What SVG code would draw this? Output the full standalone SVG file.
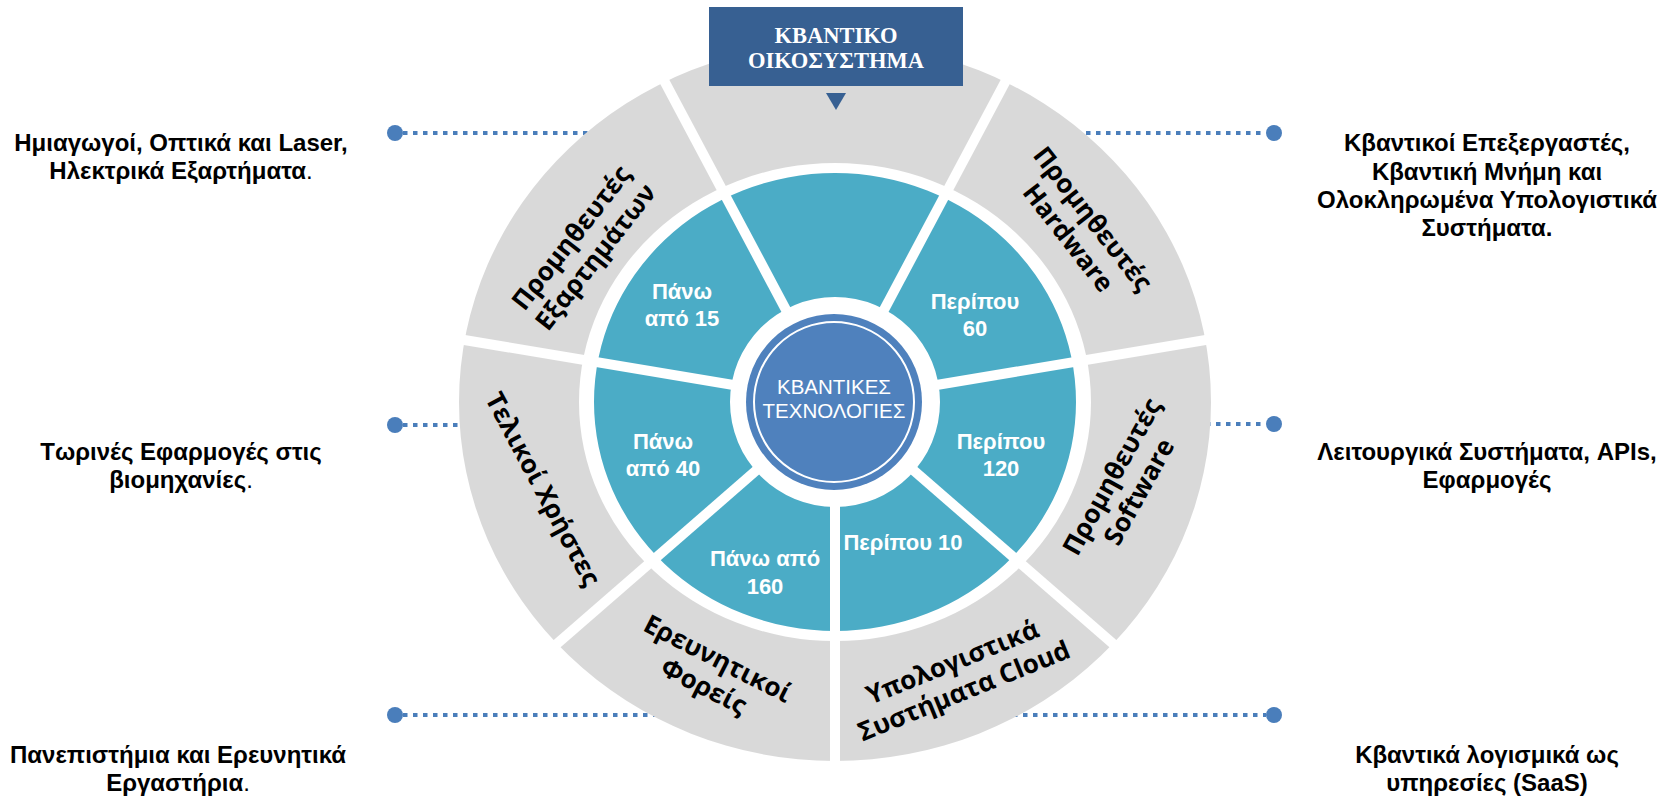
<svg xmlns="http://www.w3.org/2000/svg" width="1677" height="798" viewBox="0 0 1677 798">
<style>
.gray{fill:#d9d9d9}
.teal{fill:#4bacc6}
.seg{font-family:"Open Sans","Liberation Sans",sans-serif;font-weight:700;font-size:26px;fill:#000;text-anchor:middle}
.tl{font-family:"Liberation Sans",Arial,sans-serif;font-weight:bold;font-size:22px;fill:#fff;text-anchor:middle}
.desc{font-family:"Liberation Sans",Arial,sans-serif;font-weight:bold;font-size:24px;fill:#000;text-anchor:middle}
.dot{fill:#4a7ebb}
.dash{stroke:#4a7ebb;stroke-width:4;stroke-dasharray:4.5 5.5;fill:none}
.n{font-weight:normal}
</style>
<defs>
<mask id="mGray" maskUnits="userSpaceOnUse" x="0" y="0" width="1677" height="798">
<path d="M459,402 a376,359 0 1,0 752,0 a376,359 0 1,0 -752,0 Z M579,402 a256,239 0 1,0 512,0 a256,239 0 1,0 -512,0 Z" fill="#fff" fill-rule="evenodd"/>
<g stroke="#000" stroke-width="10">
<line x1="835" y1="402" x2="553.3" y2="-127.7"/><line x1="835" y1="402" x2="1116.7" y2="-127.7"/>
<line x1="835" y1="402" x2="1426.8" y2="303"/><line x1="835" y1="402" x2="243.2" y2="303"/>
<line x1="835" y1="402" x2="1287.8" y2="795.7"/><line x1="835" y1="402" x2="382.2" y2="795.7"/>
<line x1="835" y1="402" x2="835" y2="1002"/>
</g>
</mask>
<mask id="mTeal" maskUnits="userSpaceOnUse" x="0" y="0" width="1677" height="798">
<path d="M594,402 a241,229 0 1,0 482,0 a241,229 0 1,0 -482,0 Z M730,402 a105,105 0 1,0 210,0 a105,105 0 1,0 -210,0 Z" fill="#fff" fill-rule="evenodd"/>
<g stroke="#000" stroke-width="10">
<line x1="835" y1="402" x2="553.3" y2="-127.7"/><line x1="835" y1="402" x2="1116.7" y2="-127.7"/>
<line x1="835" y1="402" x2="1426.8" y2="303"/><line x1="835" y1="402" x2="243.2" y2="303"/>
<line x1="835" y1="402" x2="1287.8" y2="795.7"/><line x1="835" y1="402" x2="382.2" y2="795.7"/>
<line x1="835" y1="402" x2="835" y2="1002"/>
</g>
</mask>
</defs>
<rect width="1677" height="798" fill="#fff"/>

<g id="connectors">
<line class="dash" x1="403" y1="133" x2="594" y2="133"/>
<circle class="dot" cx="395" cy="133" r="8"/>
<line class="dash" x1="403" y1="425" x2="464" y2="425"/>
<circle class="dot" cx="395" cy="425" r="8"/>
<line class="dash" x1="403" y1="715" x2="657" y2="715"/>
<circle class="dot" cx="395" cy="715" r="8"/>
<line class="dash" x1="1076" y1="133" x2="1266" y2="133"/>
<circle class="dot" cx="1274" cy="133" r="8"/>
<line class="dash" x1="1206" y1="424" x2="1266" y2="424"/>
<circle class="dot" cx="1274" cy="424" r="8"/>
<line class="dash" x1="1013" y1="715" x2="1266" y2="715"/>
<circle class="dot" cx="1274" cy="715" r="8"/>
</g>

<g id="outer-top"><path class="gray" mask="url(#mGray)" d="M835,402 L553.3,-127.7 L1116.7,-127.7 Z"/></g>
<g id="outer-hardware"><path class="gray" mask="url(#mGray)" d="M835,402 L1116.7,-127.7 L1426.8,303 Z"/>
<text class="seg" transform="translate(1081,228) rotate(52)"><tspan x="0" y="-6">Προμηθευτές</tspan><tspan x="0" y="25">Hardware</tspan></text></g>
<g id="outer-software"><path class="gray" mask="url(#mGray)" d="M835,402 L1426.8,303 L1287.8,795.7 Z"/>
<text class="seg" transform="translate(1125,484) rotate(-61)"><tspan x="0" y="-6">Προμηθευτές</tspan><tspan x="0" y="25">Software</tspan></text></g>
<g id="outer-cloud"><path class="gray" mask="url(#mGray)" d="M835,402 L1287.8,795.7 L835,1002 Z"/>
<text class="seg" transform="translate(958,676) rotate(-22)"><tspan x="0" y="-6">Υπολογιστικά</tspan><tspan x="0" y="25">Συστήματα Cloud</tspan></text></g>
<g id="outer-research"><path class="gray" mask="url(#mGray)" d="M835,402 L835,1002 L382.2,795.7 Z"/>
<text class="seg" transform="translate(711,672) rotate(27)"><tspan x="0" y="-6">Ερευνητικοί</tspan><tspan x="0" y="25">Φορείς</tspan></text></g>
<g id="outer-endusers"><path class="gray" mask="url(#mGray)" d="M835,402 L382.2,795.7 L243.2,303 Z"/>
<text class="seg" transform="translate(543,489) rotate(62)"><tspan x="0" y="9">Τελικοί Χρήστες</tspan></text></g>
<g id="outer-components"><path class="gray" mask="url(#mGray)" d="M835,402 L243.2,303 L553.3,-127.7 Z"/>
<text class="seg" transform="translate(583,247) rotate(-52)"><tspan x="0" y="-6">Προμηθευτές</tspan><tspan x="0" y="25">Εξαρτημάτων</tspan></text></g>

<g id="inner-top"><path class="teal" mask="url(#mTeal)" d="M835,402 L553.3,-127.7 L1116.7,-127.7 Z"/></g>
<g id="inner-hardware"><path class="teal" mask="url(#mTeal)" d="M835,402 L1116.7,-127.7 L1426.8,303 Z"/>
<text class="tl"><tspan x="975" y="309">Περίπου</tspan><tspan x="975" y="336">60</tspan></text></g>
<g id="inner-software"><path class="teal" mask="url(#mTeal)" d="M835,402 L1426.8,303 L1287.8,795.7 Z"/>
<text class="tl"><tspan x="1001" y="449">Περίπου</tspan><tspan x="1001" y="476">120</tspan></text></g>
<g id="inner-cloud"><path class="teal" mask="url(#mTeal)" d="M835,402 L1287.8,795.7 L835,1002 Z"/>
<text class="tl" x="903" y="550">Περίπου 10</text></g>
<g id="inner-research"><path class="teal" mask="url(#mTeal)" d="M835,402 L835,1002 L382.2,795.7 Z"/>
<text class="tl"><tspan x="765" y="566">Πάνω από</tspan><tspan x="765" y="594">160</tspan></text></g>
<g id="inner-endusers"><path class="teal" mask="url(#mTeal)" d="M835,402 L382.2,795.7 L243.2,303 Z"/>
<text class="tl"><tspan x="663" y="449">Πάνω</tspan><tspan x="663" y="476">από 40</tspan></text></g>
<g id="inner-components"><path class="teal" mask="url(#mTeal)" d="M835,402 L243.2,303 L553.3,-127.7 Z"/>
<text class="tl"><tspan x="682" y="299">Πάνω</tspan><tspan x="682" y="326">από 15</tspan></text></g>

<g id="center">
<circle cx="834" cy="402" r="88" fill="#4f81bd"/>
<circle cx="834" cy="402" r="80" fill="none" stroke="#fff" stroke-width="2"/>
<text font-family="Liberation Sans, Arial, sans-serif" font-size="20.5" fill="#fff" text-anchor="middle"><tspan x="834" y="394">ΚΒΑΝΤΙΚΕΣ</tspan><tspan x="834" y="418">ΤΕΧΝΟΛΟΓΙΕΣ</tspan></text>
</g>

<g id="title">
<rect x="709" y="7" width="254" height="79" fill="#376092"/>
<text font-family="Liberation Serif, Times New Roman, serif" font-weight="bold" font-size="22.5" fill="#fff" text-anchor="middle"><tspan x="836" y="43">ΚΒΑΝΤΙΚΟ</tspan><tspan x="836" y="68">ΟΙΚΟΣΥΣΤΗΜΑ</tspan></text>
<path d="M826,93 L846,93 L836,110 Z" fill="#376092"/>
</g>

<g id="desc-components"><text class="desc"><tspan x="181" y="151">Ημιαγωγοί, Οπτικά και Laser,</tspan><tspan x="181" y="179">Ηλεκτρικά Εξαρτήματα<tspan class="n">.</tspan></tspan></text></g>
<g id="desc-endusers"><text class="desc"><tspan x="181" y="460">Τωρινές Εφαρμογές στις</tspan><tspan x="181" y="488">βιομηχανίες<tspan class="n">.</tspan></tspan></text></g>
<g id="desc-research"><text class="desc"><tspan x="178" y="763">Πανεπιστήμια και Ερευνητικά</tspan><tspan x="178" y="791">Εργαστήρια<tspan class="n">.</tspan></tspan></text></g>
<g id="desc-hardware"><text class="desc"><tspan x="1487" y="151">Κβαντικοί Επεξεργαστές,</tspan><tspan x="1487" y="180">Κβαντική Μνήμη και</tspan><tspan x="1487" y="208">Ολοκληρωμένα Υπολογιστικά</tspan><tspan x="1487" y="236">Συστήματα.</tspan></text></g>
<g id="desc-software"><text class="desc"><tspan x="1487" y="460">Λειτουργικά Συστήματα, APIs,</tspan><tspan x="1487" y="488">Εφαρμογές</tspan></text></g>
<g id="desc-cloud"><text class="desc"><tspan x="1487" y="763">Κβαντικά λογισμικά ως</tspan><tspan x="1487" y="791">υπηρεσίες (SaaS)</tspan></text></g>
</svg>
